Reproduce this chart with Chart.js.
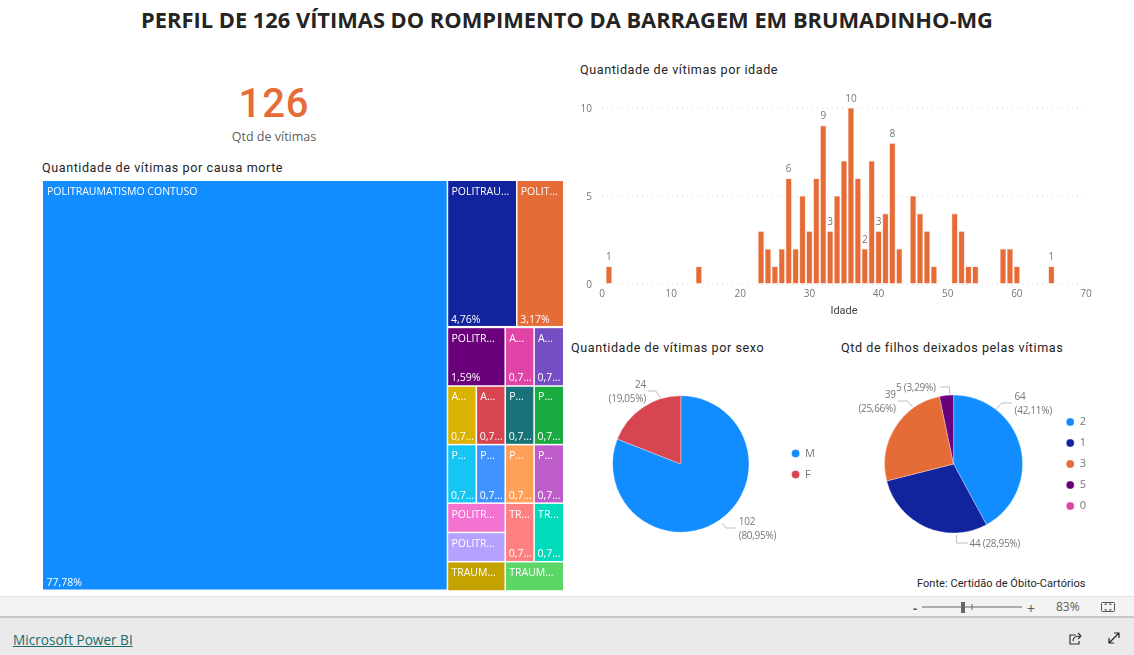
<!DOCTYPE html>
<html lang="pt-BR"><head><meta charset="utf-8">
<title>Perfil de 126 vítimas</title>
<script src="https://cdn.jsdelivr.net/npm/chart.js@4"></script>
<style>
html,body{margin:0;padding:0;background:#fff;width:1134px;height:655px;overflow:hidden}
canvas{position:absolute}
.t{position:absolute;white-space:nowrap;line-height:1}
.h{font:400 12.6px Roboto,sans-serif;letter-spacing:.56px;color:#252423}
#main{left:0;width:1134px;top:9px;text-align:center;font:700 21.85px "Open Sans",sans-serif;line-height:22px;color:#252423}
#big{left:174px;width:200px;top:80px;text-align:center;font:500 40px Roboto,sans-serif;letter-spacing:1px;color:#E66C37}
#sub{left:174px;width:200px;top:128px;text-align:center;font:400 12.5px "Open Sans",sans-serif;color:#605E5C}
#fonte{left:917px;top:577px;font:400 11px Roboto,sans-serif;letter-spacing:.05px;color:#252423}
#bar1{position:absolute;left:0;top:596px;width:1134px;height:22px;background:#F3F3F3;border-top:1px solid #E1E1E1;border-bottom:2px solid #C8C8C8;box-sizing:border-box}
#bar2{position:absolute;left:0;top:618px;width:1134px;height:37px;background:#EAEAEA}
#pbi{left:13px;top:630px;font:500 13.6px "Open Sans",sans-serif;color:#1B6B6B;text-decoration:underline}
#zoom{left:1056px;top:598px;font:400 12px "Open Sans",sans-serif;color:#605E5C}
#minus{left:913px;top:599px;font:700 13px "Open Sans",sans-serif;color:#555}
#plus{left:1027px;top:599px;font:400 14px "Open Sans",sans-serif;color:#555}
svg{position:absolute;left:0;top:0}
</style></head><body>
<div id="bar1"></div><div id="bar2"></div>
<div class="t" id="main">PERFIL DE 126 VÍTIMAS DO ROMPIMENTO DA BARRAGEM EM BRUMADINHO-MG</div>
<div class="t" id="big">126</div>
<div class="t" id="sub">Qtd de vítimas</div>
<div class="t h" style="left:42px;top:160px">Quantidade de vítimas por causa morte</div>
<div class="t h" style="left:580px;top:62px">Quantidade de vítimas por idade</div>
<div class="t h" style="left:571px;top:340px">Quantidade de vítimas por sexo</div>
<div class="t h" style="left:841px;top:340px">Qtd de filhos deixados pelas vítimas</div>
<div class="t" id="fonte">Fonte: Certidão de Óbito-Cartórios</div>
<canvas id="tree" width="520" height="410" style="left:43px;top:181px"></canvas>
<canvas id="hist" width="546" height="232" style="left:560px;top:88px"></canvas>
<canvas id="sexo" width="260" height="201" style="left:565px;top:364px"></canvas>
<canvas id="filhos" width="261" height="201" style="left:835px;top:364px"></canvas>
<div class="t" id="pbi">Microsoft Power BI</div>
<div class="t" id="minus">-</div><div class="t" id="plus">+</div><div class="t" id="zoom">83%</div>
<svg width="1134" height="655" fill="none" style="pointer-events:none">
<path d="M922 607H1022M972 604V610" stroke="#666"/>
<rect x="961" y="602" width="4" height="11" fill="#666"/>
<rect x="1101.5" y="602.5" width="13" height="9" rx="1" stroke="#555"/>
<path d="M1105 605v-1h2M1111 605v-1h-2M1105 609v1h2M1111 609v1h-2" stroke="#555"/>
<path d="M1076 635h-6v9h9v-3M1073 641c0-4 3-5 7-5M1078 633l3 3-3 3" stroke="#333" stroke-width="1.2"/>
<path d="M1109 643l10-10M1114 633h5v5M1109 638v5h5" stroke="#222" stroke-width="1.2"/>
</svg>
<script>
// ---- Treemap: causa da morte
const causeNames = ['POLITRAUMATISMO CONTUSO','POLITRAU...','POLIT...','POLITR...','A...','A...','A...','A...','P...','P...','P...','P...','P...','P...','POLITR...','POLITR...','TR...','TR...','TRAUM...','TRAUM...'];
const causeValues = [98,6,4,2,1,1,1,1,1,1,1,1,1,1,1,1,1,1,1,1];
const causeShares = ['77,78%','4,76%','3,17%','1,59%','0,7...','0,7...','0,7...','0,7...','0,7...','0,7...','0,7...','0,7...','0,7...','0,7...','','','0,7...','0,7...','',''];
const causeColors = ['#118DFF','#12239E','#E66C37','#6B007B','#E044A7','#744EC2','#D9B300','#D64550','#197278','#1AAB40','#15C6F4','#4092FF','#FFA058','#BE5DC9','#F472D0','#B5A1FF','#FF8080','#00DBBC','#C4A200','#5BD667'];
// ---- Histograma: idade
const ages =   [1,14,23,24,25,26,27,28,29,30,31,32,33,34,35,36,37,38,39,40,41,42,43,45,46,47,48,51,52,53,54,58,59,60,65];
const counts = [1, 1, 3, 2, 1, 2, 6, 2, 5, 3, 6, 9, 3, 5, 7,10, 6, 2, 7, 3, 4, 8, 2, 5, 4, 3, 1, 4, 3, 1, 1, 2, 2, 1, 1];
const labelledAges = [1,27,32,33,36,38,40,42,65];
// ---- Pizzas
const sexLabels = ['M','F'];
const sexValues = [102,24];
const sexColors = ['#118DFF','#D64550'];
const childLabels = ['2','1','3','5','0'];
const childValues = [64,44,39,5,0];
const childColors = ['#118DFF','#12239E','#E66C37','#6B007B','#E044A7'];

const UI = '"Open Sans",sans-serif';
const GREY = '#777';
Chart.defaults.animation = false;
Chart.defaults.responsive = false;
Chart.defaults.devicePixelRatio = 1;
Chart.defaults.plugins.tooltip.enabled = false;

// Slice-and-dice layout over causeValues (groups of value indexes only)
const groups = ['row',[0,['col',[['row',[1,2]],['row',[3,4,5]],['row',[6,7,8,9]],['row',[10,11,12,13]],['row',[['col',[14,15]],16,17]],['row',[18,19]]]]]];
const sumOf = n => typeof n === 'number' ? causeValues[n] : n[1].reduce((a,c)=>a+sumOf(c),0);
function place(n,x0,y0,x1,y1,out){
  if(typeof n === 'number'){out[n]={x0,y0,x1,y1};return out;}
  const total=sumOf(n);let p=n[0]==='row'?x0:y0;
  n[1].forEach(c=>{const s=sumOf(c)/total;
    if(n[0]==='row'){const e=p+(x1-x0)*s;place(c,p,y0,e,y1,out);p=e;}
    else{const e=p+(y1-y0)*s;place(c,x0,p,x1,e,out);p=e;}});
  return out;
}
const cells = place(groups,0,0,1,1,[]);
const treemapPlugin = {id:'treemapCells',afterDatasetsDraw(c){
  const {ctx,scales:{x,y},width}=c;
  cells.forEach((r,i)=>{
    const L=x.getPixelForValue(r.x0),R=x.getPixelForValue(r.x1),T=y.getPixelForValue(r.y0),B=y.getPixelForValue(r.y1);
    ctx.fillStyle=causeColors[i];
    const l=L>0?L+.75:L, e=R>=width?R:R-.75;
    ctx.fillRect(l,T+(T>0?.75:0),e-l,B-T-1.5);
    ctx.fillStyle='#fff';ctx.font='400 10.5px '+UI;ctx.textBaseline='middle';ctx.textAlign='left';
    ctx.fillText(causeNames[i],L+4,T+11.5);
    if(causeShares[i])ctx.fillText(causeShares[i],L+3.5,B-7.5);
  });
}};
new Chart(document.getElementById('tree'),{type:'scatter',
  data:{datasets:[{data:cells.map(r=>({x:(r.x0+r.x1)/2,y:(r.y0+r.y1)/2})),pointRadius:0}]},
  options:{layout:{padding:0},plugins:{legend:{display:false}},
    scales:{x:{type:'linear',min:0,max:1,display:false},y:{type:'linear',min:0,max:1,reverse:true,display:false}}},
  plugins:[treemapPlugin]});

// Histogram
const barLabels={id:'barLabels',afterDatasetsDraw(c){
  const {ctx}=c,m=c.getDatasetMeta(0);
  ctx.fillStyle=GREY;ctx.font='400 10px '+UI;ctx.textAlign='center';ctx.textBaseline='bottom';
  ages.forEach((a,i)=>{if(labelledAges.includes(a))ctx.fillText(counts[i],m.data[i].x,m.data[i].y-4);});
}};
new Chart(document.getElementById('hist'),{type:'bar',
  data:{datasets:[{data:ages.map((a,i)=>({x:a,y:counts[i]})),backgroundColor:'#E66C37',borderColor:'#F4B89F',borderWidth:{left:.6,right:.6,top:.6,bottom:0},barPercentage:.88,categoryPercentage:1}]},
  options:{layout:{padding:{left:0,right:20,top:20,bottom:0}},plugins:{legend:{display:false}},
    scales:{
      x:{type:'linear',offset:false,min:0,max:70,grid:{display:false,drawTicks:false},border:{display:false},
        afterFit(s){s.height=36;},
        ticks:{stepSize:10,color:GREY,font:{size:10,family:UI},maxRotation:0,padding:4},
        title:{display:true,text:'Idade',color:'#444',font:{size:11,family:'Roboto'},padding:{top:0,bottom:2}}},
      y:{min:0,max:10,border:{display:false,dash:[1,4]},
        afterFit(s){s.width=42;},
        grid:{color:'#D9D9D9',drawTicks:false,lineWidth:1},
        ticks:{stepSize:5,color:GREY,font:{size:10,family:UI},padding:10,labelOffset:1}}
    }},
  plugins:[barLabels]});

// Pie with leader lines. Leader points are offsets from the pie's centre.
function leaderPlugin(values,leaders){return {id:'leaders',afterDatasetsDraw(c){
  const {ctx}=c,m=c.getDatasetMeta(0),total=values.reduce((a,b)=>a+b,0);
  ctx.save();
  ctx.font='400 10px '+UI;ctx.textBaseline='middle';ctx.letterSpacing='-0.3px';
  leaders.forEach((l,i)=>{
    const a=m.data[i],ox=a.x,oy=a.y;
    ctx.strokeStyle='#BDBDBD';ctx.lineWidth=1;ctx.beginPath();
    l.path.forEach((p,k)=>k?ctx.lineTo(ox+p[0],oy+p[1]):ctx.moveTo(ox+p[0],oy+p[1]));ctx.stroke();
    const pct='('+(values[i]/total*100).toFixed(2).replace('.',',')+'%)';
    ctx.fillStyle=GREY;ctx.textAlign=l.align;
    const ty=oy+l.at[1]+1;
    if(l.inline){ctx.fillText(values[i]+' '+pct,ox+l.at[0],ty);}
    else{ctx.fillText(values[i],ox+l.at[0],ty);ctx.fillText(pct,ox+l.at[0],ty+14);}
  });
  ctx.restore();
}};}
function pie(id,labels,values,colors,padLeft,radius,leaders){
  new Chart(document.getElementById(id),{type:'pie',
    data:{labels,datasets:[{data:values,backgroundColor:colors,borderColor:'rgba(255,255,255,.55)',borderWidth:.6}]},
    options:{radius,layout:{padding:{left:padLeft,right:0,top:0,bottom:1}},
      plugins:{legend:{position:'right',align:'center',labels:{usePointStyle:true,pointStyle:'circle',pointStyleWidth:8,boxHeight:5.7,padding:10,color:GREY,font:{size:11,family:UI}}}}},
    plugins:[leaderPlugin(values,leaders)]});
}
pie('sexo',sexLabels,sexValues,sexColors,15,68.2,[
  {path:[[41,59],[45,64],[55,64]],at:[58,57],align:'left'},
  {path:[[-33,-73],[-25,-73],[-20,-66]],at:[-35,-80],align:'right'}
]);
pie('filhos',childLabels,childValues,childColors,16,69,[
  {path:[[43,-55],[48,-61],[58,-61]],at:[61,-68],align:'left'},
  {path:[[3,71],[3,79],[14,79]],at:[16,79],align:'left',inline:true},
  {path:[[-56,-63],[-46,-63],[-41,-57]],at:[-58,-70],align:'right'},
  {path:[[-14,-77],[-4,-77],[-4,-70]],at:[-18,-77],align:'right',inline:true}
]);
</script>
</body></html>
